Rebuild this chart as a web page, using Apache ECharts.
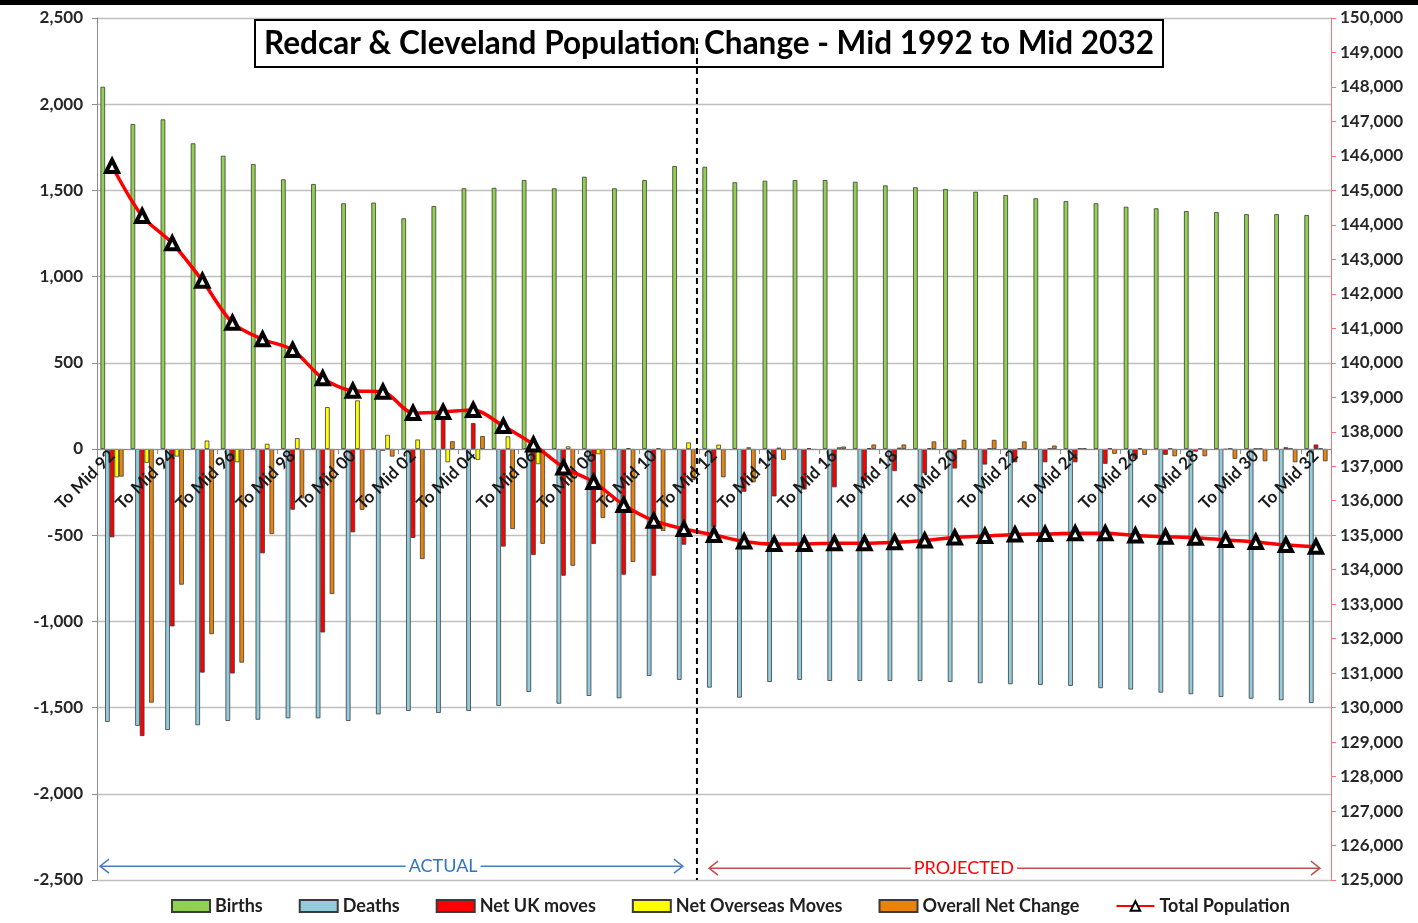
<!DOCTYPE html>
<html>
<head>
<meta charset="utf-8">
<script src="https://cdn.jsdelivr.net/npm/echarts@6/dist/echarts.min.js"></script>
<style>
  html, body { margin: 0; padding: 0; background: #fff; }
  #main { width: 1418px; height: 923px; }
</style>
</head>
<body>
<div id="main"></div>
<script>
// categories (years to mid-year)
const categories = ['To Mid 92','To Mid 93','To Mid 94','To Mid 95','To Mid 96','To Mid 97','To Mid 98','To Mid 99',
  'To Mid 00','To Mid 01','To Mid 02','To Mid 03','To Mid 04','To Mid 05','To Mid 06','To Mid 07','To Mid 08',
  'To Mid 09','To Mid 10','To Mid 11','To Mid 12','To Mid 13','To Mid 14','To Mid 15','To Mid 16','To Mid 17',
  'To Mid 18','To Mid 19','To Mid 20','To Mid 21','To Mid 22','To Mid 23','To Mid 24','To Mid 25','To Mid 26',
  'To Mid 27','To Mid 28','To Mid 29','To Mid 30','To Mid 31','To Mid 32'];

const births = [2101, 1885, 1912, 1773, 1701, 1653, 1564, 1537, 1425, 1429, 1338, 1409, 1512, 1515, 1560, 1512,
  1579, 1512, 1560, 1641, 1637, 1547, 1556, 1560, 1560, 1550, 1529, 1518, 1508, 1492, 1473, 1454, 1438, 1425,
  1405, 1396, 1380, 1374, 1362, 1362, 1357];

const deaths = [-1583, -1606, -1630, -1602, -1577, -1570, -1562, -1562, -1577, -1539, -1519, -1531, -1519, -1490,
  -1409, -1477, -1432, -1446, -1316, -1339, -1384, -1442, -1351, -1339, -1345, -1345, -1345, -1345, -1351, -1358,
  -1364, -1368, -1374, -1387, -1395, -1413, -1422, -1438, -1448, -1457, -1473];

const netUK = [-512, -1665, -1029, -1297, -1302, -605, -352, -1064, -483, -10, -516, 214, 150, -566, -615, -735,
  -551, -729, -735, -555, -454, -248, -275, -235, -222, -189, -128, -141, -113, -90, -77, -77, -77, -86, -57, -34,
  -15, -3, 2, 10, 26];

const netOverseas = [-164, -80, -44, 49, -77, 30, 63, 243, 282, 82, 55, -77, -63, 73, -88, 15, -30, 5, 3, 38, 25,
  10, 8, 5, 10, 5, 8, 4, 3, 3, 3, 3, 3, 3, 3, 2, 2, 2, 2, 2, 2];

const overall = [-160, -1471, -787, -1074, -1239, -493, -286, -841, -353, -44, -638, 45, 75, -464, -550, -677,
  -400, -655, -475, -180, -164, -193, -63, -5, 14, 26, 26, 44, 53, 53, 44, 20, 3, -28, -34, -42, -42, -57, -71,
  -77, -71];

const population = [145708, 144258, 143466, 142382, 141164, 140683, 140372, 139551, 139192, 139163, 138545,
  138574, 138632, 138168, 137632, 136965, 136544, 135877, 135422, 135181, 135007, 134819, 134746, 134746, 134766,
  134766, 134795, 134848, 134935, 134978, 135022, 135036, 135056, 135056, 134993, 134958, 134929, 134862, 134804,
  134717, 134668];

const FONT = 'Lato, "Open Sans", sans-serif';
const fmt = v => v.toLocaleString('en-US');

const myChart = echarts.init(document.getElementById('main'));

function barSeries(name, data, color) {
  return {
    name: name,
    type: 'bar',
    data: data,
    barGap: '0%',
    barCategoryGap: '23%',
    itemStyle: { color: color, borderColor: '#3a3a3a', borderWidth: 0.8 },
    emphasis: { disabled: true }
  };
}

const option = {
  animation: false,
  backgroundColor: '#fff',
  title: {
    text: 'Redcar & Cleveland Population Change - Mid 1992 to Mid 2032',
    left: 'center',
    top: 20,
    padding: [8, 9, 7, 9],
    borderColor: '#000',
    borderWidth: 2,
    backgroundColor: '#fff',
    textStyle: { fontFamily: FONT, fontSize: 31.5, fontWeight: 'bold', color: '#000' }
  },
  legend: {
    top: 892,
    left: 166,
    itemWidth: 38,
    itemHeight: 12,
    itemGap: 36,
    textStyle: { fontFamily: FONT, fontSize: 18, fontWeight: 'bold', color: '#1f1f1f' },
    data: [
      { name: 'Births', icon: 'rect' },
      { name: 'Deaths', icon: 'rect' },
      { name: 'Net UK moves', icon: 'rect' },
      { name: 'Net Overseas Moves', icon: 'rect' },
      { name: 'Overall Net Change', icon: 'rect' },
      { name: 'Total Population' }
    ]
  },
  grid: { left: 97, right: 87, top: 18, bottom: 43, containLabel: false, outerBoundsMode: 'none' },
  xAxis: {
    type: 'category',
    data: categories,
    z: 5,
    axisLine: { onZero: false, lineStyle: { color: '#8c8c8c', width: 1 } },
    axisTick: { show: true, length: 5, lineStyle: { color: '#8c8c8c' } },
    axisLabel: {
      interval: 1,
      rotate: 45,
      margin: 4,
      fontFamily: FONT,
      fontSize: 17,
      fontWeight: 'bold',
      color: '#1a1a1a'
    }
  },
  yAxis: [
    {
      type: 'value',
      min: -2500,
      max: 2500,
      interval: 500,
      axisLine: { show: true, lineStyle: { color: '#8c8c8c' } },
      axisTick: { show: true, length: 5, lineStyle: { color: '#8c8c8c' } },
      splitLine: { lineStyle: { color: '#bfbfbf', width: 1.3 } },
      axisLabel: { formatter: fmt, margin: 14, fontFamily: FONT, fontSize: 17, fontWeight: 'bold', color: '#262626' }
    },
    {
      type: 'value',
      min: 125000,
      max: 150000,
      interval: 1000,
      position: 'right',
      axisLine: { show: true, lineStyle: { color: '#ff7070' } },
      axisTick: { show: true, length: 5, lineStyle: { color: '#ff7070' } },
      splitLine: { show: false },
      axisLabel: { formatter: fmt, margin: 9, fontFamily: FONT, fontSize: 17, fontWeight: 'bold', color: '#262626' }
    }
  ],
  series: [
    barSeries('Births', births, '#92D050'),
    barSeries('Deaths', deaths, '#93CDDD'),
    barSeries('Net UK moves', netUK, '#FF0000'),
    barSeries('Net Overseas Moves', netOverseas, '#FFFF00'),
    barSeries('Overall Net Change', overall, '#E8830E'),
    {
      name: 'Total Population',
      type: 'line',
      yAxisIndex: 1,
      data: population,
      smooth: 0.3,
      z: 10,
      symbol: 'triangle',
      symbolSize: 12,
      lineStyle: { color: '#FF0000', width: 3.5 },
      itemStyle: { color: '#ffffff', borderColor: '#000', borderWidth: 4 },
      emphasis: { disabled: true }
    }
  ]
};

myChart.setOption(option);

const px = i => myChart.convertToPixel({ xAxisIndex: 0 }, i);
const py = v => myChart.convertToPixel({ yAxisIndex: 0 }, v);

// move the category axis (line, ticks, labels) up to the zero line
myChart.setOption({ xAxis: { offset: -(py(-2500) - py(0)) } });

// annotations: divider between actual and projected, plus the two arrows
function arrow(x1, x2, y, color) {
  return [
    { type: 'line', shape: { x1: x1, y1: y, x2: x2, y2: y }, style: { stroke: color, lineWidth: 1.5 }, z: 20 },
    { type: 'polyline', shape: { points: [[x1 + 9, y - 7], [x1, y], [x1 + 9, y + 7]] },
      style: { stroke: color, lineWidth: 1.5, fill: null }, z: 20 },
    { type: 'polyline', shape: { points: [[x2 - 9, y - 7], [x2, y], [x2 - 9, y + 7]] },
      style: { stroke: color, lineWidth: 1.5, fill: null }, z: 20 }
  ];
}

const divX = (px(19) + px(20)) / 2 - 2;
const arrowY = py(-2420);
const gLeft = px(0) - (px(1) - px(0)) / 2;

const graphics = [
  { type: 'rect', shape: { x: 0, y: 0, width: 1418, height: 5 }, style: { fill: '#000' }, z: 30 },
  { type: 'line', shape: { x1: divX, y1: 38, x2: divX, y2: py(-2500) },
    style: { stroke: '#000', lineWidth: 2, lineDash: [6, 4] }, z: 25 }
]
  .concat(arrow(gLeft + 3, px(19) - 1, arrowY, '#4A7EBB'))
  .concat(arrow(px(20) - 5, px(40) + 4, arrowY + 2, '#C0504D'))
  .concat([
    { type: 'text', x: px(11), y: arrowY, z: 21,
      style: { text: 'ACTUAL', fill: '#2E75C6', font: '18px ' + FONT, align: 'center', verticalAlign: 'middle',
        backgroundColor: '#fff', padding: [0, 3] } },
    { type: 'text', x: (px(28) + px(29)) / 2 - 6, y: arrowY + 2, z: 21,
      style: { text: 'PROJECTED', fill: '#FF0000', font: '18px ' + FONT, align: 'center', verticalAlign: 'middle',
        backgroundColor: '#fff', padding: [0, 3] } }
  ]);

myChart.setOption({ graphic: graphics });
</script>
</body>
</html>
